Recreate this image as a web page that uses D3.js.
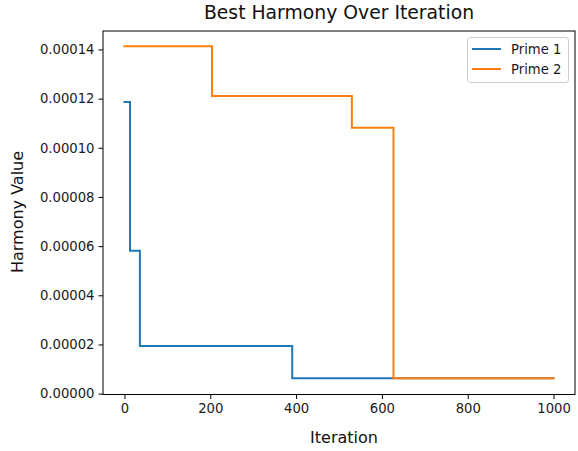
<!DOCTYPE html>
<html>
<head>
<meta charset="utf-8">
<script src="https://cdn.jsdelivr.net/npm/d3@7"></script>
<style>
  html, body { margin: 0; padding: 0; background: #fff; }
  svg { display: block; font-family: "DejaVu Sans", sans-serif; }
</style>
</head>
<body>
<svg id="chart" width="578" height="451"></svg>
<script>
// Best-so-far harmony: iterations where the value changes, and the value held from there on.
const prime1Iter = [0, 13, 36, 391, 1000];
const prime1Vals = [0.0001186, 0.0000581, 0.0000194, 0.0000063, 0.0000063];
const prime2Iter = [0, 204, 530, 627, 1000];
const prime2Vals = [0.0001413, 0.0001211, 0.0001081, 0.0000063, 0.0000063];
const seriesNames = ["Prime 1", "Prime 2"];
const seriesColors = ["#1f77b4", "#ff7f0e"];
const xTicks = [0, 200, 400, 600, 800, 1000];
const yTicks = [0, 0.00002, 0.00004, 0.00006, 0.00008, 0.00010, 0.00012, 0.00014];

const svg = d3.select("#chart");
const plot = { left: 103, right: 575, top: 31, bottom: 394.5 };

const x = d3.scaleLinear().domain([-50, 1050]).range([plot.left, plot.right]);
const y = d3.scaleLinear().domain([-0.00000035, 0.0001475]).range([plot.bottom, plot.top]);

const series = [
  { name: seriesNames[0], color: seriesColors[0], pts: prime1Iter.map((d, i) => [d, prime1Vals[i]]) },
  { name: seriesNames[1], color: seriesColors[1], pts: prime2Iter.map((d, i) => [d, prime2Vals[i]]) }
];

const line = d3.line().x(d => x(d[0])).y(d => y(d[1])).curve(d3.curveStepAfter);

svg.append("g").selectAll("path").data(series).join("path")
  .attr("d", d => line(d.pts))
  .attr("fill", "none")
  .attr("stroke", d => d.color)
  .attr("stroke-width", 2)
  .attr("stroke-linejoin", "miter")
  .attr("stroke-linecap", "square");

// axes
const xAxis = svg.append("g").attr("transform", `translate(0,${plot.bottom})`)
  .call(d3.axisBottom(x).tickValues(xTicks).tickFormat(d3.format("d")).tickSizeOuter(0).tickSize(4.5).tickPadding(4.5));
const yAxis = svg.append("g").attr("transform", `translate(${plot.left},0)`)
  .call(d3.axisLeft(y).tickValues(yTicks).tickFormat(d3.format(".5f")).tickSizeOuter(0).tickSize(4.5).tickPadding(4));
[xAxis, yAxis].forEach(g => {
  g.select(".domain").remove();
  g.selectAll("line").attr("stroke", "#000").attr("stroke-width", 1);
  g.selectAll("text").attr("fill", "#1a1a1a").style("font-size", "13.2px").style("font-family", "DejaVu Sans");
});

// frame
svg.append("rect")
  .attr("x", plot.left).attr("y", plot.top)
  .attr("width", plot.right - plot.left).attr("height", plot.bottom - plot.top)
  .attr("fill", "none").attr("stroke", "#000").attr("stroke-width", 1);

// titles
svg.append("text").attr("x", (plot.left + plot.right) / 2).attr("y", 19)
  .attr("text-anchor", "middle").style("font-size", "18.8px").attr("fill", "#111").text("Best Harmony Over Iteration");
svg.append("text").attr("x", (plot.left + plot.right) / 2 + 5).attr("y", 442.5)
  .attr("text-anchor", "middle").style("font-size", "16px").attr("fill", "#111").text("Iteration");
svg.append("text").attr("transform", "translate(23,212) rotate(-90)")
  .attr("text-anchor", "middle").style("font-size", "16px").attr("fill", "#111").text("Harmony Value");

// legend
const lg = svg.append("g").attr("transform", "translate(467,37)");
lg.append("rect").attr("x", 0.5).attr("y", 0.5).attr("width", 101).attr("height", 45)
  .attr("rx", 3).attr("fill", "#fff").attr("fill-opacity", 0.8).attr("stroke", "#ccc");
const items = lg.selectAll("g.item").data(series).join("g").attr("class", "item")
  .attr("transform", (d, i) => `translate(0,${12 + i * 20})`);
items.append("line").attr("x1", 5).attr("x2", 34).attr("y1", 0).attr("y2", 0)
  .attr("stroke", d => d.color).attr("stroke-width", 2);
items.append("text").attr("x", 44).attr("y", 0).attr("dy", "0.35em")
  .style("font-size", "13.2px").attr("fill", "#1a1a1a").text(d => d.name);
</script>
</body>
</html>
